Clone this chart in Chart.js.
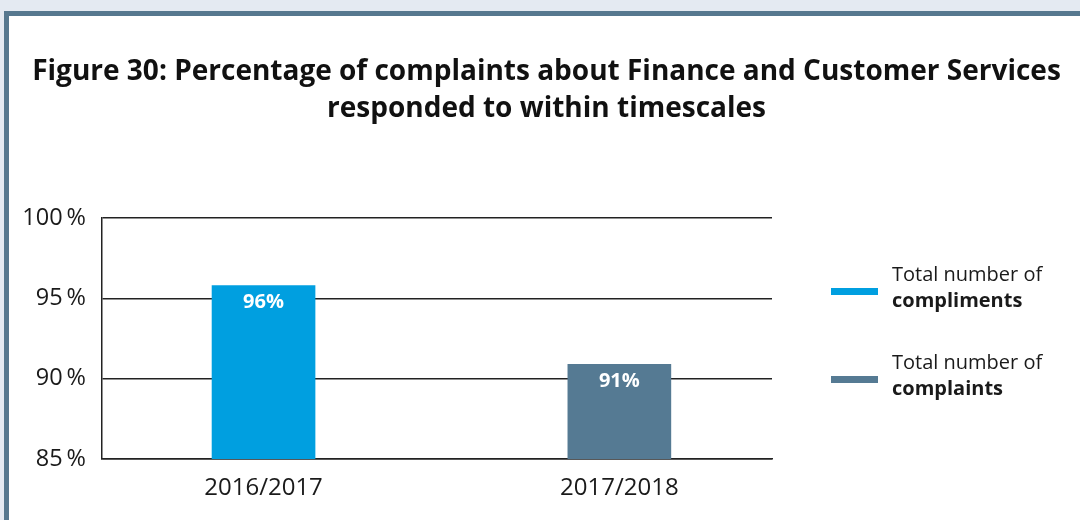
<!DOCTYPE html>
<html>
<head>
<meta charset="utf-8">
<script src="https://cdn.jsdelivr.net/npm/chart.js@4"></script>
<style>
  html, body { margin: 0; padding: 0; background: #e4eaf2; overflow: hidden; }
  .panel {
    position: absolute; left: 4px; top: 11px; width: 1100px; height: 540px;
    background: #fff; border-left: 5px solid #56788f; border-top: 5px solid #56788f;
  }
  .wrap { position: absolute; left: 0; top: 0; width: 1071px; height: 504px; }
</style>
</head>
<body>
<div class="panel"><div class="wrap"><canvas id="grafica"></canvas></div></div>
<script>
const years = ['2016/2017', '2017/2018'];
const values = [95.8, 90.9];
const barColors = ['#009fe0', '#557a93'];
const yTicks = [85, 90, 95, 100];
const titleLines = ['Figure 30: Percentage of complaints about Finance and Customer Services',
                    'responded to within timescales'];
const legendTop = ['Total number of', 'Total number of'];
const legendBold = ['compliments', 'complaints'];

const fontFamily = "'Open Sans', 'Noto Sans', sans-serif";

// título centrado sobre todo el lienzo (no solo el área del gráfico)
const wideTitle = {
    id: 'wideTitle',
    afterDraw(chart) {
        const ctx = chart.ctx;
        ctx.save();
        ctx.fillStyle = '#111';
        ctx.font = 'bold 28px ' + fontFamily;
        ctx.textAlign = 'center';
        ctx.textBaseline = 'middle';
        titleLines.forEach((line, i) => ctx.fillText(line, chart.width / 2 + 2, 56 + i * 37));
        ctx.restore();
    }
};

// valor encima de cada barra, en blanco
const barLabels = {
    id: 'barLabels',
    afterDatasetsDraw(chart) {
        const ctx = chart.ctx;
        ctx.save();
        ctx.fillStyle = '#fff';
        ctx.font = 'bold 20px ' + fontFamily;
        ctx.textAlign = 'center';
        ctx.textBaseline = 'middle';
        chart.getDatasetMeta(0).data.forEach((bar, i) => {
            ctx.fillText(Math.round(values[i]) + '%', bar.x, bar.y + 17);
        });
        ctx.restore();
    }
};

// leyenda a la derecha con dos líneas de texto
const sideLegend = {
    id: 'sideLegend',
    afterDraw(chart) {
        const ctx = chart.ctx;
        const area = chart.chartArea;
        const x0 = area.right + 59;
        ctx.save();
        ctx.textAlign = 'left';
        ctx.textBaseline = 'middle';
        legendBold.forEach((name, i) => {
            const y = 275 + i * 88;
            ctx.fillStyle = barColors[i];
            ctx.fillRect(x0, y - 3, 47, 7);
            ctx.fillStyle = '#1a1a1a';
            ctx.font = '20px ' + fontFamily;
            ctx.fillText(legendTop[i], x0 + 61, y - 16);
            ctx.font = 'bold 20px ' + fontFamily;
            ctx.fillText(name, x0 + 61, y + 10);
        });
        ctx.restore();
    }
};

const config = {
    type: 'bar',
    data: {
        datasets: [{
            data: values.map((v, i) => ({ x: i, y: v })),
            backgroundColor: barColors,
            barThickness: 103,
            borderWidth: 0
        }]
    },
    options: {
        responsive: true,
        maintainAspectRatio: false,
        animation: false,
        layout: {
            padding: { top: 202, right: 308, bottom: 0, left: 0 }
        },
        plugins: {
            legend: { display: false },
            tooltip: { enabled: false },
            title: { display: false }
        },
        scales: {
            x: {
                type: 'linear',
                offset: false,
                min: -0.454,
                max: 1.429,
                afterBuildTicks: axis => { axis.ticks = years.map((_, i) => ({ value: i })); },
                afterFit: axis => { axis.height = 61; },
                ticks: {
                    callback: v => years[v],
                    color: '#1a1a1a',
                    font: { family: fontFamily, size: 24 },
                    padding: 15,
                    maxRotation: 0
                },
                grid: { display: false, drawTicks: false },
                border: { display: true, color: '#222', width: 1.5 }
            },
            y: {
                min: 85,
                max: 100,
                afterBuildTicks: axis => { axis.ticks = yTicks.map(v => ({ value: v })); },
                afterFit: axis => { axis.width = 93; },
                ticks: {
                    callback: v => v + '\u2009%',
                    color: '#1a1a1a',
                    font: { family: fontFamily, size: 23.5 },
                    padding: 16
                },
                grid: { color: '#222', lineWidth: 1.4, drawTicks: false },
                border: { display: true, color: '#222', width: 1.5 }
            }
        }
    },
    plugins: [wideTitle, barLabels, sideLegend]
};

new Chart(document.getElementById('grafica'), config);
</script>
</body>
</html>
